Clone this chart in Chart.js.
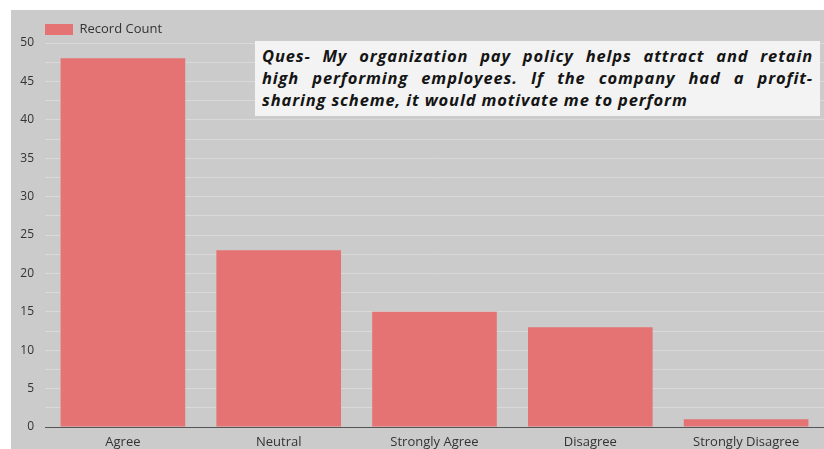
<!DOCTYPE html>
<html>
<head>
<meta charset="utf-8">
<script src="https://cdn.jsdelivr.net/npm/chart.js@4.4.1/dist/chart.umd.min.js"></script>
<style>
  body { margin: 0; background: #fff; font-family: "Open Sans", sans-serif; }
  #wrap { position: absolute; left: 11px; top: 10px; width: 813px; height: 439px; background: #cbcbcb; }
  #ques {
    position: absolute; left: 255px; top: 41px; width: 551px;
    padding: 4px 7px 5px 7px; background: #f3f3f3;
    font-family: "Open Sans", sans-serif; font-weight: 700; font-style: italic;
    font-size: 16.5px; line-height: 22px; color: #151515; letter-spacing: 0.85px;
  }
  #ques span { display: block; white-space: nowrap; }
  #ques span.j { text-align: justify; text-align-last: justify; white-space: normal; }
</style>
</head>
<body>
<div id="wrap"><canvas id="myChart"></canvas></div>
<div id="ques">
  <span class="j">Ques- My organization pay policy helps attract and retain</span>
  <span class="j">high performing employees. If the company had a profit-</span>
  <span>sharing scheme, it would motivate me to perform</span>
</div>
<script>
const categories = ['Agree', 'Neutral', 'Strongly Agree', 'Disagree', 'Strongly Disagree'];
const recordCount = [48, 23, 15, 13, 1];
const yTicks = [0, 5, 10, 15, 20, 25, 30, 35, 40, 45, 50];

// push the legend row down a little without moving the plot area
const legendNudge = {
    id: 'legendNudge',
    afterLayout(chart) {
        chart.legend.top += 3;
        chart.legend.bottom += 3;
    }
};

const ctx = document.getElementById('myChart').getContext('2d');
new Chart(ctx, {
    type: 'bar',
    data: {
        labels: categories,
        datasets: [{
            label: 'Record Count',
            data: recordCount,
            backgroundColor: '#e57373',
            barPercentage: 0.8,
            categoryPercentage: 1
        }]
    },
    options: {
        responsive: true,
        maintainAspectRatio: false,
        animation: false,
        layout: { padding: { top: 10, left: 0, right: 0, bottom: 0 } },
        plugins: {
            legend: {
                position: 'top',
                align: 'start',
                fullSize: false,
                labels: {
                    boxWidth: 28,
                    boxHeight: 11,
                    padding: 0,
                    color: '#333',
                    font: { family: 'Open Sans', size: 13, lineHeight: 1 }
                }
            },
            tooltip: { enabled: false }
        },
        scales: {
            x: {
                afterFit: scale => { scale.height = 22; },
                grid: { display: false, drawTicks: false },
                border: { color: '#555', width: 1 },
                ticks: { color: '#333', padding: 7, font: { family: 'Open Sans', size: 13 } }
            },
            y: {
                min: 0,
                max: 50,
                afterFit: scale => { scale.width = 34; },
                border: { display: false },
                grid: { color: '#d9d9d9', drawTicks: false },
                ticks: {
                    stepSize: 2.5,
                    padding: 11,
                    color: '#333',
                    font: { family: 'Open Sans', size: 12 },
                    callback: v => yTicks.includes(v) ? v : ''
                }
            }
        }
    },
    plugins: [legendNudge]
});
</script>
</body>
</html>
